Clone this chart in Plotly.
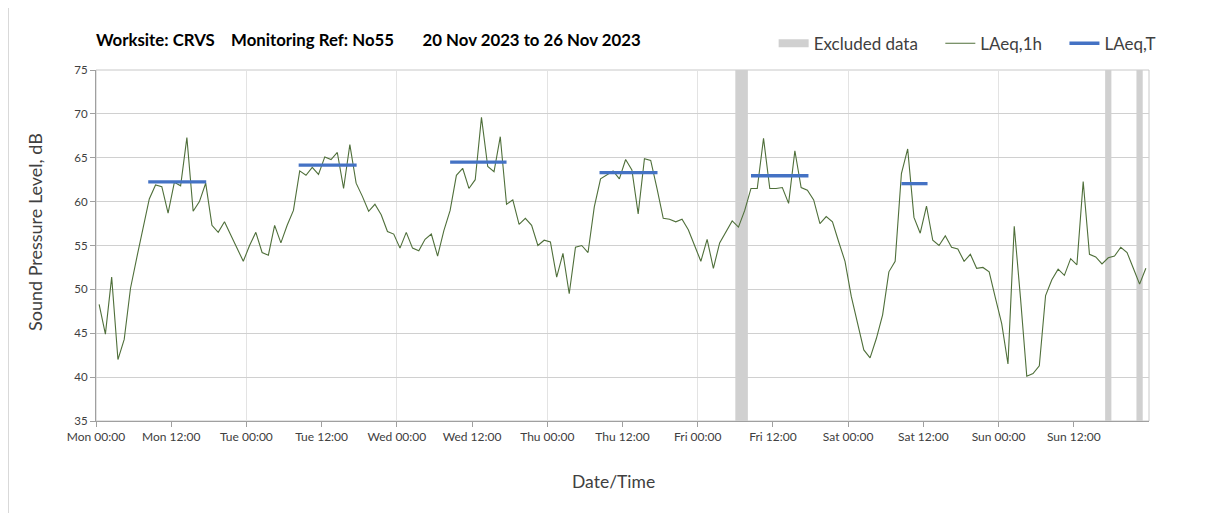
import pandas as pd
import plotly.graph_objects as go

# ---- data ----
start_time = "2023-11-20 00:30"
laeq_1h = [
    48.3, 44.9, 51.4, 42.0, 44.3, 50.1, 53.6, 57.0, 60.3, 61.9, 61.7, 58.7,
    62.2, 61.8, 67.3, 58.9, 60.0, 62.1, 57.3, 56.5, 57.7, 56.2, 54.7, 53.2,
    55.0, 56.5, 54.2, 53.9, 57.3, 55.3, 57.3, 59.0, 63.5, 63.0, 63.9, 63.1,
    65.1, 64.8, 65.6, 61.5, 66.5, 62.1, 60.6, 58.9, 59.7, 58.5, 56.6, 56.3,
    54.7, 56.5, 54.7, 54.4, 55.7, 56.3, 53.8, 56.7, 59.0, 63.0, 63.8, 61.5,
    62.5, 69.6, 64.0, 63.4, 67.4, 59.7, 60.2, 57.4, 58.1, 57.3, 55.0, 55.6,
    55.4, 51.4, 54.1, 49.5, 54.8, 55.0, 54.2, 59.4, 62.6, 63.1, 63.5, 62.6,
    64.8, 63.6, 58.6, 64.9, 64.7, 61.5, 58.1, 58.0, 57.7, 58.0, 56.8, 55.0,
    53.2, 55.7, 52.4, 55.3, 56.6, 57.8, 57.1, 59.0, 61.5, 61.5, 67.2, 61.5,
    61.5, 61.6, 59.8, 65.8, 61.6, 61.3, 60.2, 57.5, 58.3, 57.7, 55.4, 53.2,
    49.2, 46.1, 43.1, 42.2, 44.4, 47.1, 52.0, 53.2, 63.2, 66.0, 58.2, 56.4,
    59.5, 55.6, 55.0, 56.1, 54.8, 54.6, 53.2, 54.0, 52.4, 52.5, 52.0, 49.0,
    46.1, 41.5, 57.2, 49.0, 40.1, 40.4, 41.3, 49.3, 51.1, 52.3, 51.6, 53.5,
    52.8, 62.3, 54.0, 53.7, 52.9, 53.6, 53.8, 54.8, 54.2, 52.4, 50.6, 52.4,
]

period_start = ["2023-11-20 08:20", "2023-11-21 08:20", "2023-11-22 08:30",
                "2023-11-23 08:20", "2023-11-24 08:30", "2023-11-25 08:30"]
period_end = ["2023-11-20 17:35", "2023-11-21 17:35", "2023-11-22 17:30",
              "2023-11-23 17:35", "2023-11-24 17:40", "2023-11-25 12:40"]
laeq_t = [62.25, 64.15, 64.5, 63.3, 62.95, 62.05]

excluded_start = ["2023-11-24 06:00", "2023-11-26 17:00", "2023-11-26 22:00"]
excluded_end = ["2023-11-24 08:00", "2023-11-26 18:00", "2023-11-26 23:00"]

tick_start = "2023-11-20 00:00"
tick_count = 14
y_min, y_max = 35, 75
x_min, x_max = "2023-11-20 00:00", "2023-11-27 00:00"
title_text = ("Worksite: CRVS\u00a0\u00a0\u00a0\u00a0Monitoring Ref: No55"
              "\u00a0\u00a0\u00a0\u00a0\u00a0\u00a0\u00a020 Nov 2023 to 26 Nov 2023")
x_title = "Date/Time"
y_title = "Sound Pressure Level, dB"
PAD = "\u00a0" * 4

# ---- build ----
times = pd.date_range(start_time, periods=len(laeq_1h), freq="h")
tickvals = pd.date_range(tick_start, periods=tick_count, freq="12h")

ex_s = pd.to_datetime(excluded_start)
ex_e = pd.to_datetime(excluded_end)
ex_mid = ex_s + (ex_e - ex_s) / 2
ex_w = [(e - s).total_seconds() * 1000 for s, e in zip(ex_s, ex_e)]

seg_x, seg_y = [], []
for s, e, v in zip(period_start, period_end, laeq_t):
    seg_x += [s, e, None]
    seg_y += [v, v, None]

FONT = "Lato, 'Open Sans', sans-serif"

fig = go.Figure()
fig.add_trace(go.Bar(
    x=ex_mid, y=[y_max - y_min] * len(ex_mid), base=[y_min] * len(ex_mid),
    width=ex_w, marker=dict(color="#d0d0d0", line=dict(width=0)),
    showlegend=False, hoverinfo="skip",
))
fig.add_trace(go.Scatter(
    x=[None], y=[None], mode="lines", name="Excluded data" + PAD,
    line=dict(color="#d0d0d0", width=8),
))
fig.add_trace(go.Scatter(
    x=times, y=laeq_1h, mode="lines", name="LAeq,1h" + PAD,
    line=dict(color="#4f6f3a", width=1.1),
))
fig.add_trace(go.Scatter(
    x=seg_x, y=seg_y, mode="lines", name="LAeq,T",
    line=dict(color="#4472c4", width=3.3),
))

# page body adds an 8px offset; figure is sized to fill the remaining area
fig.update_layout(
    width=1200, height=507,
    margin=dict(l=88, r=59, t=62, b=94, autoexpand=False),
    paper_bgcolor="white", plot_bgcolor="white",
    font=dict(family=FONT, color="#404040"),
    title=dict(text="<b>" + title_text + "</b>", x=0, xref="paper",
               xanchor="left", y=0.937, yanchor="middle",
               font=dict(size=16.8, color="#000000", family=FONT)),
    legend=dict(orientation="h", x=1.012, xanchor="right", y=1.075,
                yanchor="middle", font=dict(size=17, color="#404040"),
                bgcolor="rgba(0,0,0,0)", traceorder="normal"),
    barmode="overlay",
    showlegend=True,
)
fig.update_xaxes(
    type="date", range=[x_min, x_max],
    tickvals=tickvals, tickformat="%a %H:%M", ticks="outside", ticklen=5,
    tickcolor="#a0a0a0", tickfont=dict(size=12, color="#404040"),
    showgrid=False, showline=True, linecolor="#a0a0a0", linewidth=1,
    automargin=False,
)
fig.update_xaxes(minor=dict(dtick=24 * 3600 * 1000, tick0=tick_start,
                            showgrid=True, gridcolor="#e3e3e3", gridwidth=1,
                            ticks=""))
fig.update_yaxes(
    range=[y_min, y_max], dtick=5, ticks="outside", ticklen=5,
    tickcolor="#a0a0a0", tickfont=dict(size=11.5, color="#404040"),
    showgrid=True, gridcolor="#d0d0d0", gridwidth=1,
    showline=True, linecolor="#a0a0a0", linewidth=1, zeroline=False,
    automargin=False,
)
fig.add_annotation(text=x_title, xref="paper", yref="paper",
                   x=0.4919, y=-0.171, xanchor="center", yanchor="middle",
                   showarrow=False, font=dict(size=17.5, color="#404040"))
fig.add_annotation(text=y_title, xref="paper", yref="paper", textangle=-90,
                   x=-0.0579, y=0.5385, xanchor="center", yanchor="middle",
                   showarrow=False, font=dict(size=18, color="#404040"))
fig.add_shape(type="rect", xref="paper", yref="paper", x0=0, x1=1, y0=0, y1=1,
              line=dict(color="#c8c8c8", width=1), fillcolor="rgba(0,0,0,0)",
              layer="below")
fig.add_shape(type="line", xref="paper", yref="paper",
              x0=-87.5 / 1053, x1=-87.5 / 1053, y0=-92 / 351, y1=(351 + 62) / 351,
              line=dict(color="#d9d9d9", width=1))

fig.write_html("out.html")
